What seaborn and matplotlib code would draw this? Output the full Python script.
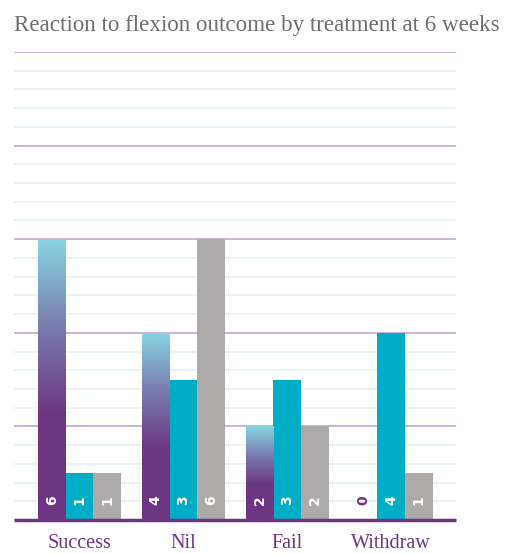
import numpy as np
import pandas as pd
import matplotlib
matplotlib.use("Agg")
import matplotlib.pyplot as plt
from matplotlib.ticker import MultipleLocator
from matplotlib.colors import LinearSegmentedColormap
import seaborn as sns

categories = ["Success", "Nil", "Fail", "Withdraw"]
treatments = ["A", "B", "C"]
values_a = [6, 4, 2, 0]
values_b = [1, 3, 3, 4]
values_c = [1, 6, 2, 1]
title = "Reaction to flexion outcome by treatment at 6 weeks"

PURPLE = "#6c3683"
TEAL = "#00adc7"
GRAY = "#acabaa"
CYAN = "#88d6e2"

rows = []
for t, vals in zip(treatments, [values_a, values_b, values_c]):
    for c, v in zip(categories, vals):
        rows.append({"outcome": c, "treatment": t, "count": v})
df = pd.DataFrame(rows)

sns.set_theme(style="white")
plt.rcParams["font.family"] = ["Liberation Serif", "DejaVu Serif"]

fig = plt.figure(figsize=(5.12, 5.54), dpi=100)
ax = fig.add_axes([14 / 512, (554 - 520) / 554, (456 - 14) / 512, (520 - 52) / 554])

sns.barplot(data=df, x="outcome", y="count", hue="treatment", order=categories,
            hue_order=treatments, palette=[PURPLE, TEAL, GRAY], saturation=1,
            width=0.8, legend=False, ax=ax, errorbar=None, linewidth=0)

ax.set_ylim(0, 10)
ax.set_xlim(-0.63, 3.625)
ax.yaxis.set_major_locator(MultipleLocator(2))
ax.yaxis.set_minor_locator(MultipleLocator(0.4))
ax.set_axisbelow(True)
ax.grid(which="major", axis="y", color="#c9b4d7", lw=1.4)
ax.grid(which="minor", axis="y", color="#e5f2f6", lw=1.2)
ax.grid(axis="x", visible=False)
for s in ["left", "right", "top"]:
    ax.spines[s].set_visible(False)
ax.spines["bottom"].set_color(PURPLE)
ax.spines["bottom"].set_linewidth(2.5)
ax.spines["bottom"].set_capstyle("butt")
ax.spines["bottom"].set_zorder(5)
ax.set_yticklabels([])
ax.tick_params(axis="y", length=0, which="both")
ax.tick_params(axis="x", length=0, pad=10, labelsize=14.5, labelcolor=PURPLE)
ax.set_xlabel("")
ax.set_ylabel("")

# gradient for first treatment bars
cmap = LinearSegmentedColormap.from_list("g", [(0, PURPLE), (0.38, PURPLE), (0.7, "#7a7fb0"), (1, CYAN)])
grad = np.linspace(0, 1, 256).reshape(-1, 1)
containers = ax.containers
for bar in containers[0]:
    h = bar.get_height()
    if h <= 0:
        continue
    x0 = bar.get_x()
    w = bar.get_width()
    bar.set_facecolor("none")
    im = ax.imshow(grad, cmap=cmap, origin="lower", extent=[x0, x0 + w, 0, h],
                   aspect="auto", zorder=bar.get_zorder(), interpolation="bilinear")
    im.set_clip_path(bar)
ax.set_xlim(-0.63, 3.625)
ax.set_ylim(0, 10)

for ci, cont in enumerate(containers):
    for bar in cont:
        h = bar.get_height()
        xc = bar.get_x() + bar.get_width() / 2
        col = "white" if h > 0 else PURPLE
        ax.text(xc, 0.43, f"{int(round(h))}", rotation=90, ha="center", va="center",
                color=col, fontsize=10, fontweight="bold", family="DejaVu Sans", zorder=6)

fig.text(14 / 512, 1 - 25 / 554, title, ha="left", va="center", fontsize=16.6, color="#6e6e6e")

fig.savefig("out.png", dpi=100, facecolor="white")
